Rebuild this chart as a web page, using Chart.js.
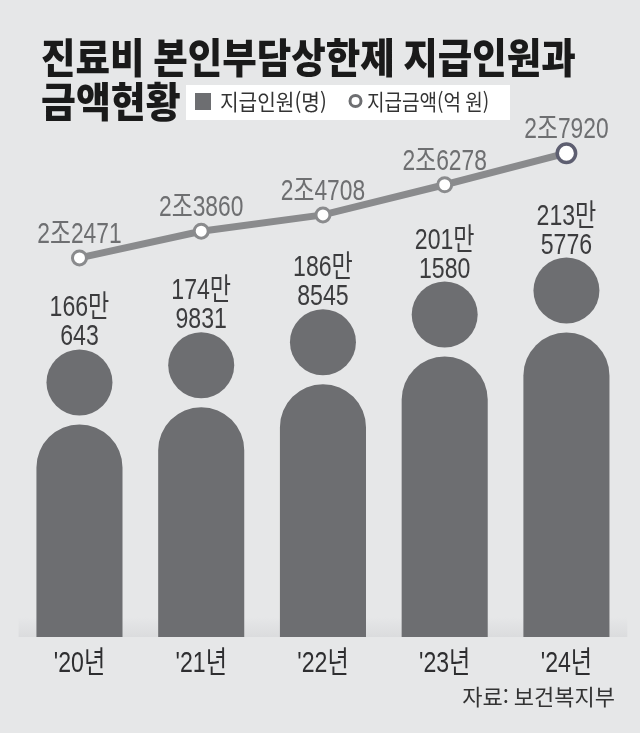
<!DOCTYPE html>
<html lang="ko">
<head>
<meta charset="utf-8">
<title>진료비 본인부담상한제 지급인원과 금액현황</title>
<script src="https://cdn.jsdelivr.net/npm/chart.js@4"></script>
<style>
  html, body { margin: 0; padding: 0; background: #e6e7e8; }
  #wrap { position: relative; width: 640px; height: 733px; }
</style>
</head>
<body>
<div id="wrap"><canvas id="chart" width="640" height="733"></canvas></div>
<script>
const years = ["'20년", "'21년", "'22년", "'23년", "'24년"];
const people = [1660643, 1749831, 1868545, 2011580, 2135776]; // 지급인원(명)
const amount = [22471, 23860, 24708, 26278, 27920];           // 지급금액(억 원)
const titleLines = ['진료비 본인부담상한제 지급인원과', '금액현황'];
const legendLabels = ['지급인원(명)', '지급금액(억 원)'];
const source = '자료: 보건복지부';

const BAR = '#6d6e71';
const LINE = '#8a8b8d';
const NUM = "'Liberation Sans', 'Noto Sans CJK KR', sans-serif";
const KR = "'Noto Sans CJK KR', sans-serif";

function drawText(ctx, text, x, y, font, color, align, sx) {
    ctx.save();
    ctx.font = font;
    ctx.fillStyle = color;
    ctx.textBaseline = 'alphabetic';
    ctx.textAlign = align;
    ctx.translate(x, y);
    ctx.scale(sx, 1);
    ctx.fillText(text, 0, 0);
    ctx.restore();
}

const decor = {
    id: 'decor',
    beforeDraw(chart) {
        const ctx = chart.ctx;
        ctx.save();
        ctx.fillStyle = '#e6e7e8';
        ctx.fillRect(0, 0, chart.width, chart.height);
        // faint shadow along the base line
        const a = chart.chartArea;
        const g = ctx.createLinearGradient(0, a.bottom - 20, 0, a.bottom);
        g.addColorStop(0, 'rgba(205,206,209,0)');
        g.addColorStop(1, 'rgba(205,206,209,0.45)');
        ctx.fillStyle = g;
        ctx.fillRect(a.left, a.bottom - 20, a.right - a.left, 20);
        ctx.restore();
    },
    afterDatasetDraw(chart, args) {
        if (args.index !== 0) return;
        // heads of the "people" bars
        const ctx = chart.ctx;
        ctx.save();
        ctx.fillStyle = BAR;
        args.meta.data.forEach(bar => {
            ctx.beginPath();
            ctx.arc(bar.x, bar.y - 42, 33, 0, Math.PI * 2);
            ctx.fill();
        });
        ctx.restore();
    },
    afterDraw(chart) {
        const ctx = chart.ctx;

        // bar values
        chart.getDatasetMeta(0).data.forEach((bar, i) => {
            const v = people[i];
            drawText(ctx, Math.floor(v / 10000) + '만', bar.x, bar.y - 108, '30px ' + NUM, '#3c3c3e', 'center', 0.77);
            drawText(ctx, String(v % 10000), bar.x, bar.y - 79, '30px ' + NUM, '#3c3c3e', 'center', 0.77);
        });

        // line values
        chart.getDatasetMeta(1).data.forEach((pt, i) => {
            const v = amount[i];
            drawText(ctx, Math.floor(v / 10000) + '조' + (v % 10000), pt.x, pt.y - 15, '30px ' + NUM, '#6e6f71', 'center', 0.76);
        });

        // category labels
        const xs = chart.scales.x;
        years.forEach((y, i) => {
            drawText(ctx, y, xs.getPixelForValue(i), 672, '30px ' + NUM, '#2e2e30', 'center', 0.77);
        });

        // title
        drawText(ctx, titleLines[0], 41, 73, '900 41px ' + KR, '#1a1a1a', 'left', 0.915);
        drawText(ctx, titleLines[1], 41, 117, '900 41px ' + KR, '#1a1a1a', 'left', 0.925);

        // legend
        ctx.save();
        ctx.fillStyle = '#ffffff';
        ctx.fillRect(186, 85, 324, 35);
        ctx.fillStyle = BAR;
        ctx.fillRect(195, 93, 16, 17);
        ctx.beginPath();
        ctx.arc(355.5, 101, 5.5, 0, Math.PI * 2);
        ctx.fillStyle = '#ffffff';
        ctx.fill();
        ctx.lineWidth = 3;
        ctx.strokeStyle = BAR;
        ctx.stroke();
        ctx.restore();
        drawText(ctx, legendLabels[0], 220, 110, '22px ' + KR, '#333333', 'left', 0.92);
        drawText(ctx, legendLabels[1], 367, 110, '22px ' + KR, '#333333', 'left', 0.865);

        // source
        drawText(ctx, source, 615, 705, '22px ' + KR, '#333333', 'right', 1.0);
    }
};

new Chart(document.getElementById('chart'), {
    type: 'bar',
    data: {
        labels: years,
        datasets: [{
            type: 'bar',
            label: legendLabels[0],
            data: people,
            yAxisID: 'y',
            backgroundColor: BAR,
            barPercentage: 0.707,
            categoryPercentage: 1,
            borderRadius: { topLeft: 50, topRight: 50 },
            borderSkipped: 'start',
            order: 2
        }, {
            type: 'line',
            label: legendLabels[1],
            data: amount,
            yAxisID: 'y2',
            borderColor: LINE,
            borderWidth: 7,
            tension: 0,
            pointBackgroundColor: '#ffffff',
            pointBorderColor: [LINE, LINE, LINE, LINE, '#5d5e70'],
            pointBorderWidth: [3, 3, 3, 3, 3.5],
            pointRadius: [7, 7, 7, 7, 9.2],
            order: 1
        }]
    },
    options: {
        responsive: false,
        animation: false,
        devicePixelRatio: 1,
        events: [],
        layout: { padding: { left: 18.6, right: 2.6, top: 100, bottom: 96 } },
        plugins: { legend: { display: false }, title: { display: false }, tooltip: { enabled: false } },
        scales: {
            x: { display: false, offset: true, grid: { display: false } },
            y: { display: false, min: 562300, max: 3337500 },
            y2: { display: false, min: 2749, max: 30687 }
        }
    },
    plugins: [decor]
});
</script>
</body>
</html>
